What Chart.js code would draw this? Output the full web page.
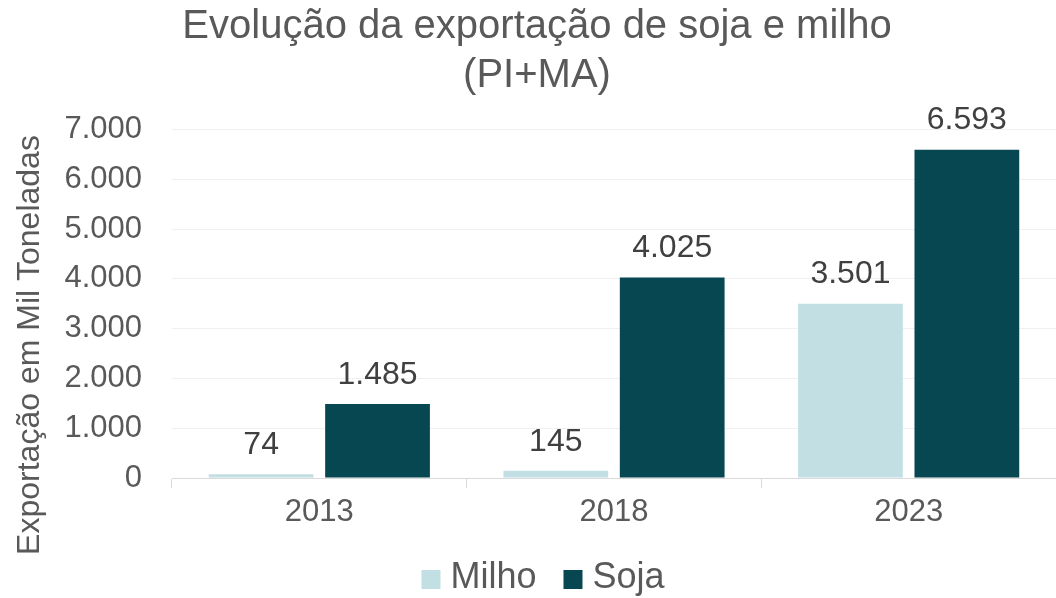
<!DOCTYPE html>
<html>
<head>
<meta charset="utf-8">
<script src="https://cdn.jsdelivr.net/npm/chart.js@4/dist/chart.umd.min.js"></script>
<style>
  html, body { margin: 0; padding: 0; background: #fff; }
  #wrap { width: 1056px; height: 598px; }
</style>
</head>
<body>
<div id="wrap"><canvas id="myChart"></canvas></div>
<script>
const anos = ["2013", "2018", "2023"];
const milho = [74, 145, 3501];
const soja = [1485, 4025, 6593];
const yTicks = [0, 1000, 2000, 3000, 4000, 5000, 6000, 7000];
const yTitle = "Exportação em Mil Toneladas";

const FONT = "'Liberation Sans', Arial, sans-serif";

function fmt(v) {
  return Math.round(v).toString().replace(/\B(?=(\d{3})+(?!\d))/g, ".");
}

// labels above each bar
const valueLabels = {
  id: "valueLabels",
  afterDatasetsDraw(chart) {
    const ctx = chart.ctx;
    ctx.save();
    ctx.font = "32px " + FONT;
    ctx.fillStyle = "#404040";
    ctx.textAlign = "center";
    ctx.textBaseline = "middle";
    chart.data.datasets.forEach((ds, i) => {
      chart.getDatasetMeta(i).data.forEach((bar, j) => {
        ctx.fillText(fmt(ds.data[j]), bar.x, bar.y - 29);
      });
    });
    ctx.restore();
  }
};

// y axis title, centred lower than the plot like the original
const sideTitle = {
  id: "sideTitle",
  afterDraw(chart) {
    const ctx = chart.ctx;
    ctx.save();
    ctx.translate(30, 345);
    ctx.rotate(-Math.PI / 2);
    ctx.font = "32px " + FONT;
    ctx.fillStyle = "#595959";
    ctx.textAlign = "center";
    ctx.textBaseline = "middle";
    ctx.fillText(yTitle, 0, 0);
    ctx.restore();
  }
};

// legend under the axis
const bottomLegend = {
  id: "bottomLegend",
  afterDraw(chart) {
    const ctx = chart.ctx;
    const box = 19, gap = 10, space = 27;
    ctx.save();
    ctx.font = "36px " + FONT;
    const items = chart.data.datasets.map((ds) => ({
      text: ds.label,
      color: ds.backgroundColor,
      w: ctx.measureText(ds.label).width,
    }));
    let total = 0;
    items.forEach((it, i) => {
      total += box + gap + it.w + (i < items.length - 1 ? space : 0);
    });
    let x = 543 - total / 2;
    ctx.textBaseline = "alphabetic";
    items.forEach((it) => {
      ctx.fillStyle = it.color;
      ctx.fillRect(x, 570, box, box);
      x += box + gap;
      ctx.fillStyle = "#595959";
      ctx.fillText(it.text, x, 588);
      x += it.w + space;
    });
    ctx.restore();
  }
};

new Chart("myChart", {
  type: "bar",
  data: {
    labels: anos,
    datasets: [
      {
        label: "Milho",
        data: milho,
        backgroundColor: "#C2DFE4",
        categoryPercentage: 0.79,
        barPercentage: 0.9,
      },
      {
        label: "Soja",
        data: soja,
        backgroundColor: "#074752",
        categoryPercentage: 0.79,
        barPercentage: 0.9,
      },
    ],
  },
  options: {
    responsive: true,
    maintainAspectRatio: false,
    animation: false,
    layout: { padding: { left: 18, right: 0, top: 0, bottom: 0 } },
    plugins: {
      title: {
        display: true,
        text: ["Evolução da exportação de soja e milho", "(PI+MA)"],
        color: "#595959",
        font: { family: FONT, size: 40, weight: "normal", lineHeight: 1.23 },
        padding: { top: 2, bottom: 29 },
      },
      legend: { display: false },
      tooltip: { enabled: false },
    },
    scales: {
      x: {
        afterFit(scale) {
          scale.height = 120;
        },
        grid: {
          display: true,
          drawOnChartArea: false,
          color: "#D9D9D9",
          tickLength: 10,
          offset: true,
        },
        border: { color: "#D9D9D9" },
        ticks: {
          color: "#595959",
          font: { family: FONT, size: 31 },
          padding: 6,
        },
      },
      y: {
        min: 0,
        max: 7000,
        afterBuildTicks(scale) {
          scale.ticks = yTicks.map((v) => ({ value: v }));
        },
        afterFit(scale) {
          scale.width = 154;
        },
        grid: { color: "#F0F0F0", drawTicks: false },
        border: { display: false },
        ticks: {
          color: "#595959",
          font: { family: FONT, size: 31 },
          padding: 30,
          callback: (v) => fmt(v),
        },
      },
    },
  },
  plugins: [valueLabels, sideTitle, bottomLegend],
});
</script>
</body>
</html>
